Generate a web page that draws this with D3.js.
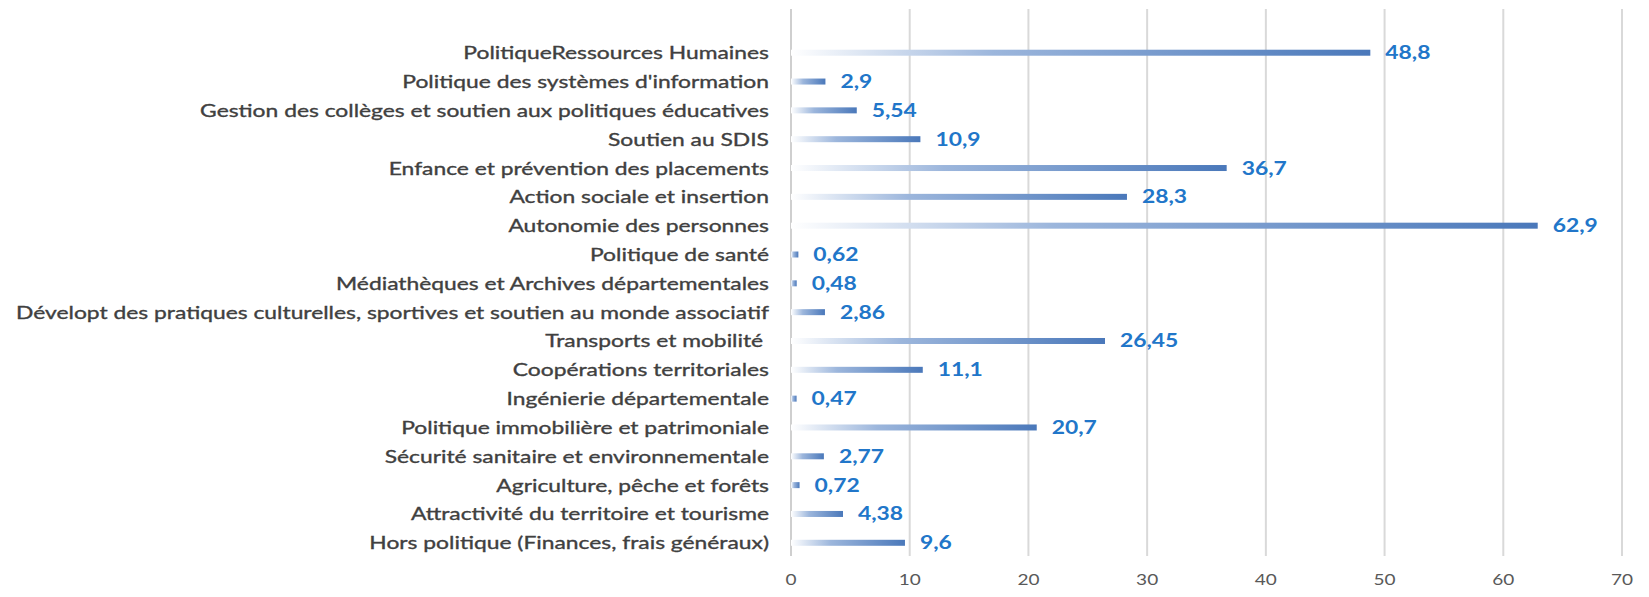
<!DOCTYPE html>
<html>
<head>
<meta charset="utf-8">
<script src="https://cdn.jsdelivr.net/npm/d3@7"></script>
<style>
  html, body { margin: 0; padding: 0; background: #ffffff; }
  svg { display: block; }
  text { white-space: pre; }
</style>
</head>
<body>
<svg id="chart" width="1649" height="597"></svg>
<script>
// ---- data ----
const categories = [
  "PolitiqueRessources Humaines",
  "Politique des systèmes d'information",
  "Gestion des collèges et soutien aux politiques éducatives",
  "Soutien au SDIS",
  "Enfance et prévention des placements",
  "Action sociale et insertion",
  "Autonomie des personnes",
  "Politique de santé",
  "Médiathèques et Archives départementales",
  "Dévelopt des pratiques culturelles, sportives et soutien au monde associatif",
  "Transports et mobilité ",
  "Coopérations territoriales",
  "Ingénierie départementale",
  "Politique immobilière et patrimoniale",
  "Sécurité sanitaire et environnementale",
  "Agriculture, pêche et forêts",
  "Attractivité du territoire et tourisme",
  "Hors politique (Finances, frais généraux)"
];
const values = [48.8, 2.9, 5.54, 10.9, 36.7, 28.3, 62.9, 0.62, 0.48, 2.86, 26.45, 11.1, 0.47, 20.7, 2.77, 0.72, 4.38, 9.6];
const valueLabels = ["48,8", "2,9", "5,54", "10,9", "36,7", "28,3", "62,9", "0,62", "0,48", "2,86", "26,45", "11,1", "0,47", "20,7", "2,77", "0,72", "4,38", "9,6"];
const xTicks = [0, 10, 20, 30, 40, 50, 60, 70];
const xDomain = [0, 70];

// ---- layout ----
const plotLeft = 791, plotRight = 1622;
const gridTop = 9, gridBottom = 556;
const catTop = 38.3, catBottom = 557.2;
const barH = 6;
const SX = 1.27;   // horizontal text stretch of the reference
const SXC = 1.268; // stretch for category labels

const svg = d3.select("#chart");

const x = d3.scaleLinear().domain(xDomain).range([plotLeft, plotRight]);
const y = d3.scalePoint().domain(categories).range([catTop, catBottom]).padding(0.5);

// gradient
const defs = svg.append("defs");
const grad = defs.append("linearGradient").attr("id", "barGrad")
  .attr("x1", "0%").attr("x2", "100%").attr("y1", "0%").attr("y2", "0%");
grad.append("stop").attr("offset", "0%").attr("stop-color", "#ffffff").attr("stop-opacity", 1);
grad.append("stop").attr("offset", "35%").attr("stop-color", "#9cb6dc");
grad.append("stop").attr("offset", "100%").attr("stop-color", "#4a78ba");

// gridlines
svg.append("g").selectAll("line").data(xTicks).join("line")
  .attr("x1", d => x(d)).attr("x2", d => x(d))
  .attr("y1", gridTop).attr("y2", gridBottom)
  .attr("stroke", d => d === 0 ? "#cfcfcf" : "#d9d9d9")
  .attr("stroke-width", 2);

// tick labels
svg.append("g").selectAll("text").data(xTicks).join("text")
  .attr("transform", d => `translate(${x(d)},585) scale(${SX},1)`)
  .attr("text-anchor", "middle")
  .attr("font-family", "Lato, 'Open Sans', sans-serif")
  .attr("font-size", 15)
  .attr("fill", "#595959")
  .text(d => d);

// bars
svg.append("g").selectAll("rect").data(values).join("rect")
  .attr("x", x(0))
  .attr("y", (d, i) => y(categories[i]) - barH / 2)
  .attr("width", d => x(d) - x(0))
  .attr("height", barH)
  .attr("fill", "url(#barGrad)");

// category labels
svg.append("g").selectAll("text").data(categories).join("text")
  .attr("transform", d => `translate(769,${y(d)}) scale(${SXC},1)`)
  .attr("dy", "0.36em")
  .attr("text-anchor", "end")
  .attr("font-family", "Lato, 'Open Sans', sans-serif")
  .attr("font-size", 18)
  .attr("fill", "#404040")
  .attr("stroke", "#404040")
  .attr("stroke-width", 0.35)
  .text(d => d);

// value labels
svg.append("g").selectAll("text").data(values).join("text")
  .attr("transform", (d, i) => `translate(${x(d) + 15},${y(categories[i])}) scale(${SX},1)`)
  .attr("dy", "0.36em")
  .attr("font-family", "Lato, 'Open Sans', sans-serif")
  .attr("font-weight", "bold")
  .attr("font-size", 18)
  .attr("fill", "#2176c9")
  .text((d, i) => valueLabels[i]);
</script>
</body>
</html>
